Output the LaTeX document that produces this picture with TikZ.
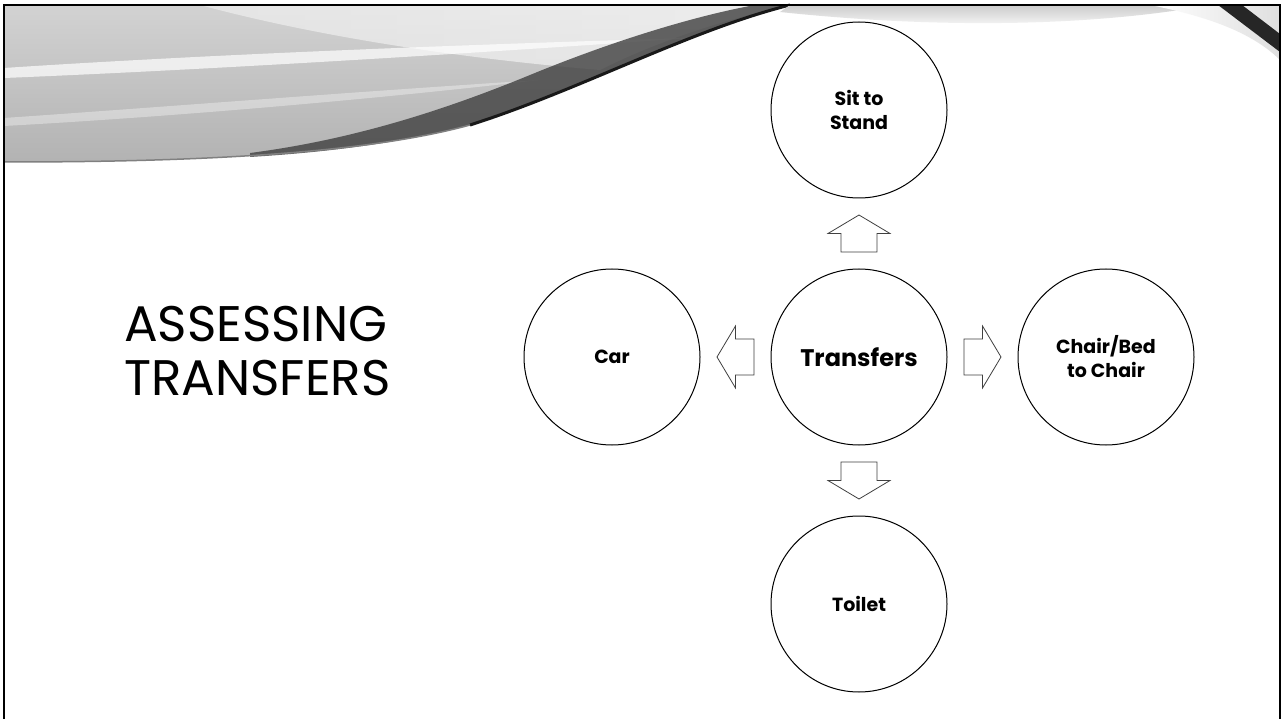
\documentclass[tikz,border=0pt]{standalone}
\usepackage{fontspec}
\setmainfont{Poppins}
\usetikzlibrary{positioning,calc}

\tikzset{
  stage/.style={circle, draw, line width=1pt, minimum size=176pt, inner sep=0pt,
    align=center, font=\bfseries\fontsize{19}{24}\selectfont},
  hub/.style={stage, font=\bfseries\fontsize{24}{28}\selectfont},
  arrowline/.style={draw, line width=0.8pt, black!75, fill=white},
  blockarrow/.pic={
    \path[arrowline] (-18.5,-18) -- (0,-18) -- (0,-31) -- (18.5,0)
      -- (0,31) -- (0,18) -- (-18.5,18) -- cycle;
  }
}

\begin{document}
\begin{tikzpicture}[x=1pt, y=-1pt, node distance=247pt, on grid]
\useasboundingbox (0,0) rectangle (1283,719);
\fill[white] (0,0) rectangle (1283,719);

% swoosh, top left
\shade[top color=gray!35, bottom color=gray!60]
  (4,5) -- (790,5) .. controls (690,30) and (580,90) .. (470,125)
  .. controls (350,158) and (150,162) .. (4,162) -- cycle;
\shade[left color=gray!10, right color=white, opacity=.6]
  (200,5) -- (790,5) .. controls (700,25) and (640,50) .. (600,70)
  .. controls (480,60) and (330,40) .. (200,5) -- cycle;
\fill[white, opacity=.7]
  (4,68) .. controls (200,55) and (450,45) .. (690,38)
  .. controls (450,55) and (200,70) .. (4,78) -- cycle;
\fill[white, opacity=.35]
  (4,118) .. controls (150,108) and (350,92) .. (540,80)
  .. controls (350,102) and (150,118) .. (4,126) -- cycle;
\fill[black!75, opacity=.8]
  (790,5) .. controls (690,30) and (580,90) .. (470,125)
  .. controls (400,143) and (330,152) .. (250,157)
  -- (250,153) .. controls (350,140) and (440,112) .. (530,75)
  .. controls (620,38) and (700,15) .. (755,5) -- cycle;
\draw[line width=3pt, black!90]
  (790,5) .. controls (690,30) and (580,90) .. (470,125);
\draw[line width=1.5pt, black!50]
  (470,125) .. controls (350,158) and (150,162) .. (4,162);
\shade[top color=gray!40, bottom color=white]
  (790,5) -- (1210,5) .. controls (1100,25) and (950,30) .. (780,12) -- cycle;

% swoosh, top right
\shade[left color=white, right color=gray!25]
  (1150,5) -- (1280,5) -- (1280,60) .. controls (1250,30) and (1200,15) .. (1150,5) -- cycle;
\fill[black!85] (1218,5) -- (1242,5) -- (1280,34) -- (1280,52) -- cycle;

% frame
\draw[line width=2.5pt] (4,719) -- (4,5) -- (1280,5) -- (1280,719);

% title
\node[anchor=north west, align=left, inner sep=0pt,
  font=\fontsize{50}{54}\selectfont] (title) at (124,306)
  {ASSESSING\\TRANSFERS};

% circles
\node[hub] (tr) at (859,357) {Transfers};
\node[stage, above=of tr] (sit) {Sit to\\Stand};
\node[stage, left=of tr] (car) {Car};
\node[stage, right=of tr] (chair) {Chair/Bed\\to Chair};
\node[stage, below=of tr] (toilet) {Toilet};

% block arrows
\pic[rotate=90] at ($(tr)!0.5!(sit)$) {blockarrow};
\pic[rotate=180] at ($(tr)!0.5!(car)$) {blockarrow};
\pic at ($(tr)!0.5!(chair)$) {blockarrow};
\pic[rotate=270] at ($(tr)!0.5!(toilet)$) {blockarrow};
\end{tikzpicture}
\end{document}
